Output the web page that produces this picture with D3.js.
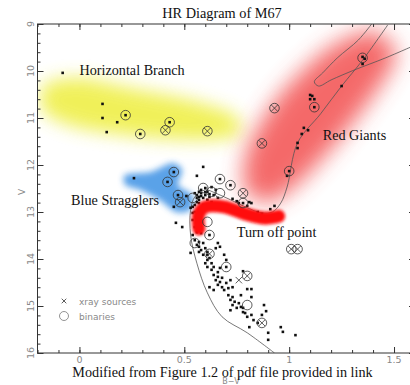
<!DOCTYPE html>
<html>
<head>
<meta charset="utf-8">
<script src="https://cdn.jsdelivr.net/npm/d3@7"></script>
<style>
    body { margin: 0; background: #ffffff; }
    svg { display: block; }
</style>
</head>
<body>
<div id="chart"></div>
<script>
// ----------------------------------------------------------------------------------------------------
// DATA - [B-V, V]
// ----------------------------------------------------------------------------------------------------

var stars = [
    // horizontal branch
    [-0.08, 10.04], [0.11, 10.70], [0.11, 11.00], [0.18, 11.09], [0.22, 10.94], [0.13, 11.30],
    [0.29, 11.34], [0.43, 11.09],
    // red giants
    [1.12, 10.77], [1.10, 10.51], [1.11, 10.53], [1.10, 10.60], [1.12, 10.60], [1.25, 10.32],
    [1.35, 9.70], [1.36, 9.74], [1.35, 9.85], [1.07, 11.21], [1.09, 11.26], [1.06, 11.34],
    [1.04, 11.53], [1.04, 11.64], [1.00, 12.13], [0.99, 12.23],
    // blue stragglers
    [0.26, 12.28], [0.45, 12.15], [0.42, 12.36], [0.47, 12.64], [0.45, 12.89], [0.51, 12.66],
    // subgiants
    [0.59, 12.04], [0.56, 12.23], [0.67, 12.30], [0.72, 12.43], [0.78, 12.81], [0.73, 12.72],
    [0.75, 12.77], [0.76, 12.81], [0.81, 12.79], [0.82, 12.81], [0.80, 12.87], [0.85, 13.00],
    [0.87, 13.04], [0.91, 12.94], [0.93, 12.87],
    // turn off clump
    [0.55, 12.60], [0.56, 12.64], [0.57, 12.57], [0.57, 12.68], [0.58, 12.60], [0.59, 12.70],
    [0.60, 12.64], [0.61, 12.74], [0.61, 12.57], [0.62, 12.68], [0.63, 12.79], [0.64, 12.64],
    [0.57, 12.74], [0.57, 12.81], [0.55, 12.85], [0.56, 12.79], [0.54, 12.89], [0.58, 12.53],
    [0.60, 12.49], [0.65, 12.53], [0.66, 12.70], [0.61, 12.85], [0.59, 12.85], [0.63, 12.47],
    [0.53, 12.91], [0.54, 13.02], [0.58, 12.66], [0.60, 12.58], [0.62, 12.62], [0.56, 12.70],
    [0.55, 13.00], [0.56, 13.11], [0.54, 13.17], [0.57, 13.21], [0.55, 13.32], [0.57, 13.34],
    [0.56, 13.43], [0.54, 13.49], [0.58, 13.45], [0.62, 13.49], [0.49, 13.32], [0.46, 13.23],
    // main sequence
    [0.55, 13.60], [0.57, 13.64], [0.56, 13.70], [0.57, 13.74], [0.59, 13.66], [0.58, 13.81],
    [0.60, 13.77], [0.61, 13.85], [0.57, 13.85], [0.59, 13.91], [0.61, 13.91], [0.62, 13.98],
    [0.61, 14.02], [0.60, 14.09], [0.63, 14.09], [0.64, 14.17], [0.61, 14.17], [0.66, 13.66],
    [0.65, 13.77], [0.67, 13.74], [0.53, 13.87], [0.69, 13.91], [0.70, 14.02], [0.70, 14.17],
    [0.78, 14.26], [0.80, 14.64], [0.82, 14.64], [0.67, 14.19],
    [0.63, 14.23], [0.66, 14.28], [0.64, 14.34], [0.66, 14.38], [0.65, 14.45], [0.67, 14.49],
    [0.68, 14.40], [0.68, 14.60], [0.66, 14.55], [0.70, 14.51], [0.72, 14.45], [0.69, 14.66],
    [0.71, 14.62], [0.73, 14.60], [0.62, 14.60], [0.64, 14.66], [0.71, 14.77], [0.73, 14.81],
    [0.72, 14.87], [0.74, 14.91], [0.73, 14.98], [0.76, 14.94], [0.77, 15.02], [0.78, 15.04],
    [0.75, 15.04], [0.78, 15.13], [0.79, 15.15], [0.80, 15.23], [0.82, 15.19], [0.72, 15.09],
    [0.77, 14.77], [0.82, 14.81], [0.88, 14.98], [0.89, 15.11], [0.87, 15.19], [0.85, 15.36],
    [0.90, 15.57], [0.96, 15.45], [0.97, 15.55], [1.03, 15.62], [0.81, 15.45], [0.83, 15.30],
    [0.90, 15.72]
];

var binaries = [
    [0.22, 10.94], [0.29, 11.34], [0.43, 11.09], [0.41, 11.26], [0.61, 11.28], [0.93, 10.79],
    [0.87, 11.54], [1.12, 10.77], [1.35, 9.72], [1.00, 12.13], [0.45, 12.15], [0.42, 12.36],
    [0.47, 12.64], [0.48, 12.79], [0.67, 12.30], [0.72, 12.43], [0.78, 12.60], [0.78, 12.81],
    [0.59, 12.49], [0.63, 12.57], [0.67, 12.60], [0.54, 12.70], [0.61, 13.21], [0.62, 13.49],
    [0.55, 13.66], [0.62, 13.89], [0.70, 14.17], [0.80, 14.36], [0.80, 14.98], [0.87, 15.36],
    [1.01, 13.79], [1.04, 13.79]
];

var xraySources = [
    [0.41, 11.26], [0.61, 11.28], [0.93, 10.79], [0.87, 11.54], [0.48, 12.79], [0.78, 12.60],
    [0.62, 13.89], [0.80, 14.36], [0.87, 15.36], [1.01, 13.79], [1.04, 13.79], [0.76, 14.45]
];

var isochrone = [
    [0.93, 16.00], [0.80, 15.57], [0.68, 15.23], [0.61, 14.72], [0.56, 14.09], [0.53, 13.49],
    [0.53, 12.96], [0.55, 12.68], [0.60, 12.53], [0.65, 12.60], [0.72, 12.74], [0.80, 12.91],
    [0.87, 13.02], [0.92, 13.00], [0.96, 12.81], [0.99, 12.47], [1.04, 11.53], [1.15, 10.91],
    [1.25, 10.32], [1.35, 9.77], [1.47, 9.02]
];

var agbLoop = [
    [1.40, 8.96], [1.33, 9.34], [1.23, 9.72], [1.16, 10.04], [1.12, 10.23], [1.14, 10.32],
    [1.20, 10.19], [1.31, 9.98], [1.46, 9.72], [1.60, 9.45]
];

var regionHB = [
    [-0.17, 10.30], [0.00, 10.15], [0.24, 10.36], [0.53, 10.62], [0.74, 10.94], [0.76, 11.36],
    [0.58, 11.47], [0.29, 11.40], [0.00, 11.21], [-0.17, 10.87]
];

var regionRG = [
    [0.79, 12.55], [0.80, 11.68], [0.95, 10.55], [1.18, 9.55], [1.39, 9.15], [1.51, 9.62],
    [1.42, 10.40], [1.23, 11.50], [1.05, 12.36], [0.91, 12.78]
];

var regionBS = [
    [0.22, 12.21], [0.34, 12.15], [0.44, 11.96], [0.49, 12.11], [0.47, 12.43], [0.54, 12.64],
    [0.53, 12.96], [0.46, 13.00], [0.38, 12.74], [0.29, 12.53], [0.22, 12.43]
];

var turnOffStreak = [
    [0.57, 13.36], [0.57, 13.04], [0.60, 12.89], [0.69, 12.89], [0.79, 13.04], [0.88, 13.13],
    [0.95, 13.09]
];

var xTicksMajor = [0, 0.5, 1, 1.5];
var xTickLabels = ["0", "0.5", "1", "1.5"];
var yTicksMajor = [9, 10, 11, 12, 13, 14, 15, 16];

var annotations = [
    { text: "Horizontal Branch", bv: 0.00, v: 10.09 },
    { text: "Red Giants", bv: 1.16, v: 11.47 },
    { text: "Blue Stragglers", bv: -0.04, v: 12.85 },
    { text: "Turn off point", bv: 0.75, v: 13.53 }
];

// ----------------------------------------------------------------------------------------------------
// CHART
// ----------------------------------------------------------------------------------------------------

var w = 410, h = 385;
var plotL = 37.5, plotR = 415, plotT = 24, plotB = 353;

var x = d3.scaleLinear().domain([-0.2, 1.6]).range([plotL, plotR]);
var y = d3.scaleLinear().domain([9, 16]).range([plotT, plotB]);

var svg = d3.select("#chart")
    .append("svg")
    .attr("width", w)
    .attr("height", h);

var defs = svg.append("defs");
defs.append("clipPath").attr("id", "plotClip")
    .append("rect")
    .attr("x", plotL).attr("y", plotT)
    .attr("width", plotR - plotL).attr("height", plotB - plotT);

function addBlur(id, sd) {
    defs.append("filter")
        .attr("id", id)
        .attr("x", "-60%").attr("y", "-60%")
        .attr("width", "220%").attr("height", "220%")
        .append("feGaussianBlur")
        .attr("stdDeviation", sd);
}
addBlur("blurBig", 9);
addBlur("blurRed", 11);
addBlur("blurMid", 3);
addBlur("blurSmall", 1.5);

var plot = svg.append("g").attr("clip-path", "url(#plotClip)");

var area = d3.line()
    .x(function(d) { return x(d[0]); })
    .y(function(d) { return y(d[1]); })
    .curve(d3.curveCardinalClosed.tension(0.2));

var line = d3.line()
    .x(function(d) { return x(d[0]); })
    .y(function(d) { return y(d[1]); })
    .curve(d3.curveCatmullRom.alpha(0.5));

// Regions
plot.append("path").attr("d", area(regionHB))
    .attr("fill", "#eeee3c").attr("opacity", 0.85)
    .attr("filter", "url(#blurBig)");
plot.append("path").attr("d", area(regionRG))
    .attr("fill", "#f24a4a").attr("opacity", 0.82)
    .attr("filter", "url(#blurRed)");
plot.append("path").attr("d", area(regionBS))
    .attr("fill", "#4a98e6").attr("opacity", 0.9)
    .attr("filter", "url(#blurMid)");

// Isochrone
plot.append("path").attr("d", line(isochrone))
    .attr("fill", "none").attr("stroke", "#555").attr("stroke-width", 0.8);
plot.append("path").attr("d", line(agbLoop))
    .attr("fill", "none").attr("stroke", "#555").attr("stroke-width", 0.8);

// Stars
plot.selectAll(".star")
    .data(stars)
    .enter()
    .append("rect")
    .attr("class", "star")
    .attr("x", function(d) { return x(d[0]) - 1.3; })
    .attr("y", function(d) { return y(d[1]) - 1.3; })
    .attr("width", 2.6)
    .attr("height", 2.6)
    .attr("fill", "#111");

// Turn off streak
plot.append("path").attr("d", line(turnOffStreak))
    .attr("fill", "none").attr("stroke", "#ff1010")
    .attr("stroke-width", 13).attr("stroke-linecap", "round")
    .attr("filter", "url(#blurSmall)");

// Binaries
plot.selectAll(".bin")
    .data(binaries)
    .enter()
    .append("circle")
    .attr("class", "bin")
    .attr("cx", function(d) { return x(d[0]); })
    .attr("cy", function(d) { return y(d[1]); })
    .attr("r", 4.8)
    .attr("fill", "none")
    .attr("stroke", "#333")
    .attr("stroke-width", 0.8);

// X-ray sources
function xMark(g, cx, cy, s) {
    g.append("path")
        .attr("d", "M" + (cx - s) + "," + (cy - s) + "L" + (cx + s) + "," + (cy + s) +
                   "M" + (cx - s) + "," + (cy + s) + "L" + (cx + s) + "," + (cy - s))
        .attr("stroke", "#333").attr("stroke-width", 0.8).attr("fill", "none");
}
xraySources.forEach(function(d) { xMark(plot, x(d[0]), y(d[1]), 3.2); });

// Axes (ticks inward)
function styleAxis(g) {
    g.select(".domain").remove();
    g.selectAll("line").attr("stroke", "#333");
}
var xMinor = d3.range(-0.2, 1.601, 0.1).map(function(v) { return Math.round(v * 10) / 10; });
var yMinor = d3.range(9, 16.001, 0.2).map(function(v) { return Math.round(v * 10) / 10; });

[[d3.axisBottom, plotB], [d3.axisTop, plotT]].forEach(function(a) {
    svg.append("g").attr("transform", "translate(0," + a[1] + ")")
        .call(a[0](x).tickValues(xMinor).tickSize(-3).tickFormat("")).call(styleAxis);
    svg.append("g").attr("transform", "translate(0," + a[1] + ")")
        .call(a[0](x).tickValues(xTicksMajor).tickSize(-6).tickFormat("")).call(styleAxis);
});
[[d3.axisLeft, plotL], [d3.axisRight, plotR]].forEach(function(a) {
    svg.append("g").attr("transform", "translate(" + a[1] + ",0)")
        .call(a[0](y).tickValues(yMinor).tickSize(-3).tickFormat("")).call(styleAxis);
    svg.append("g").attr("transform", "translate(" + a[1] + ",0)")
        .call(a[0](y).tickValues(yTicksMajor).tickSize(-6).tickFormat("")).call(styleAxis);
});

svg.append("rect")
    .attr("x", plotL).attr("y", plotT)
    .attr("width", plotR - plotL).attr("height", plotB - plotT)
    .attr("fill", "none").attr("stroke", "#333").attr("stroke-width", 1);

// Tick labels
var tickFont = "'DejaVu Sans', sans-serif";
svg.selectAll(".xlab")
    .data(xTicksMajor)
    .enter()
    .append("text")
    .attr("class", "xlab")
    .attr("x", function(d) { return x(d); })
    .attr("y", 363)
    .attr("text-anchor", "middle")
    .attr("font-family", tickFont)
    .attr("font-size", "9.5px")
    .attr("fill", "#888")
    .text(function(d, i) { return xTickLabels[i]; });

svg.selectAll(".ylab")
    .data(yTicksMajor)
    .enter()
    .append("text")
    .attr("class", "ylab")
    .attr("transform", function(d) { return "translate(34," + y(d) + ") rotate(-90)"; })
    .attr("text-anchor", "middle")
    .attr("font-family", tickFont)
    .attr("font-size", "9.5px")
    .attr("fill", "#888")
    .text(function(d) { return d; });

svg.append("text")
    .attr("transform", "translate(25,192) rotate(-90)")
    .attr("text-anchor", "middle")
    .attr("font-family", tickFont)
    .attr("font-size", "9px")
    .attr("fill", "#888")
    .text("V");

svg.append("text")
    .attr("x", 231).attr("y", 384)
    .attr("text-anchor", "middle")
    .attr("font-family", tickFont)
    .attr("font-size", "8px")
    .attr("fill", "#888")
    .text("B\u2212V");

// Legend
xMark(svg, 64, 301, 2.3);
svg.append("circle").attr("cx", 64).attr("cy", 316).attr("r", 4.5)
    .attr("fill", "none").attr("stroke", "#777").attr("stroke-width", 0.8);
svg.append("text").attr("x", 79).attr("y", 305)
    .attr("font-family", tickFont).attr("font-size", "9px").attr("fill", "#888")
    .text("xray sources");
svg.append("text").attr("x", 79).attr("y", 320)
    .attr("font-family", tickFont).attr("font-size", "9px").attr("fill", "#888")
    .text("binaries");

// Annotations
var serif = "'Liberation Serif', 'Times New Roman', serif";
svg.selectAll(".note")
    .data(annotations)
    .enter()
    .append("text")
    .attr("class", "note")
    .attr("x", function(d) { return x(d.bv); })
    .attr("y", function(d) { return y(d.v); })
    .attr("font-family", serif)
    .attr("font-size", "14.2px")
    .attr("fill", "#111")
    .text(function(d) { return d.text; });

svg.append("text")
    .attr("x", 222).attr("y", 18)
    .attr("text-anchor", "middle")
    .attr("font-family", serif)
    .attr("font-size", "14.3px")
    .attr("fill", "#111")
    .text("HR Diagram of M67");

svg.append("text")
    .attr("x", 222.5).attr("y", 377)
    .attr("text-anchor", "middle")
    .attr("font-family", serif)
    .attr("font-size", "14.2px")
    .attr("fill", "#111")
    .text("Modified from Figure 1.2 of pdf file provided in link");
</script>
</body>
</html>
